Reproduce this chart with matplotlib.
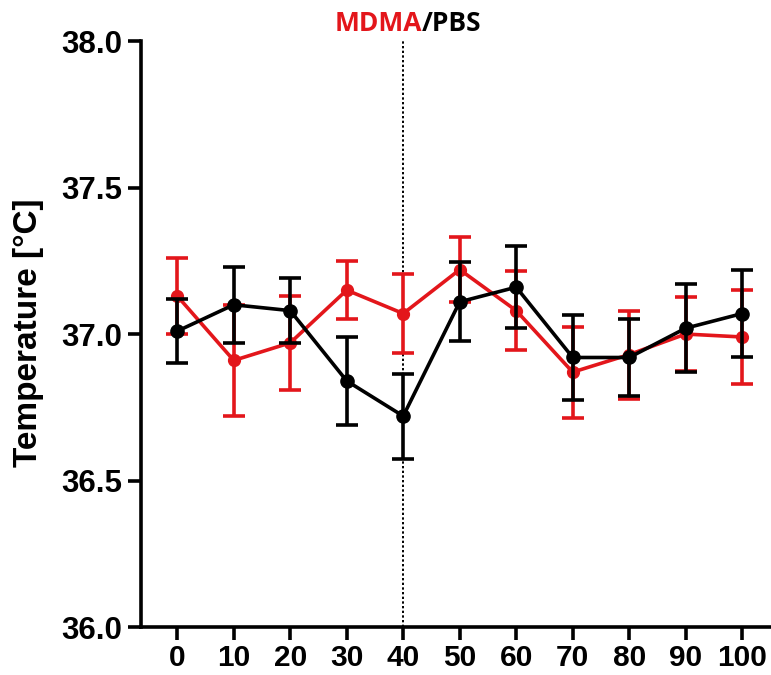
import matplotlib
matplotlib.use("Agg")
import matplotlib.pyplot as plt
from matplotlib import font_manager

# Time points (min)
time_points = [0, 10, 20, 30, 40, 50, 60, 70, 80, 90, 100]

# Body temperature, mean and error (°C)
mdma_mean = [37.13, 36.91, 36.97, 37.15, 37.07, 37.22, 37.08, 36.87, 36.93, 37.00, 36.99]
mdma_err = [0.13, 0.19, 0.16, 0.10, 0.135, 0.11, 0.135, 0.155, 0.15, 0.125, 0.16]
pbs_mean = [37.01, 37.10, 37.08, 36.84, 36.72, 37.11, 37.16, 36.92, 36.92, 37.02, 37.07]
pbs_err = [0.11, 0.13, 0.11, 0.15, 0.145, 0.135, 0.14, 0.145, 0.13, 0.15, 0.15]

y_ticks = [36.0, 36.5, 37.0, 37.5, 38.0]
injection_time = 40

RED = "#e3161b"
BLACK = "#000000"

names = {f.name for f in font_manager.fontManager.ttflist}
has_narrow = "Liberation Sans Narrow" in names
label_family = "Liberation Sans Narrow" if has_narrow else "Liberation Sans"
label_size = 30 if has_narrow else 24

fig = plt.figure(figsize=(7.71, 6.75), dpi=100)
ax = fig.add_axes([0.183, 0.0711, 0.817, 0.868])

ax.axvline(injection_time, color=BLACK, linestyle=(0, (1.2, 1.2)), linewidth=1.4, zorder=1)

ax.errorbar(time_points, mdma_mean, yerr=mdma_err, color=RED, marker="o", markersize=8.5,
            linewidth=2.6, elinewidth=2.6, capsize=8, capthick=2.6, zorder=3)
ax.errorbar(time_points, pbs_mean, yerr=pbs_err, color=BLACK, marker="o", markersize=9.5,
            linewidth=2.6, elinewidth=2.6, capsize=8, capthick=2.6, zorder=4)

ax.set_xlim(-6.4, 105.1)
ax.set_ylim(36.0, 38.0)
ax.set_xticks(time_points)
ax.set_yticks(y_ticks)
ax.set_yticklabels([f"{v:.1f}" for v in y_ticks])

for side in ("top", "right"):
    ax.spines[side].set_visible(False)
for side in ("left", "bottom"):
    ax.spines[side].set_linewidth(2.6)

ax.tick_params(axis="both", width=2.6, length=9.5)
ax.tick_params(axis="y", pad=4)
ax.tick_params(axis="x", pad=3)
for lab in ax.get_yticklabels():
    lab.set_fontfamily("Liberation Sans")
    lab.set_fontweight("bold")
    lab.set_fontsize(22.5)
for lab in ax.get_xticklabels():
    lab.set_fontfamily("Liberation Sans")
    lab.set_fontweight("bold")
    lab.set_fontsize(21.5)

ax.set_ylabel("Temperature [°C]", fontfamily=label_family, fontweight="bold",
              fontsize=label_size)
ax.yaxis.set_label_coords((28 - 141) / (0.817 * 771), (627 - 333) / (0.868 * 675))
ax.yaxis.label.set_va("center")

# Two-coloured title: MDMA / PBS
fig.text(422 / 771, 1 - 31 / 675, "MDMA", color=RED, ha="right", va="baseline",
         fontfamily="Open Sans", fontweight="bold", fontsize=19)
fig.text(422 / 771, 1 - 31 / 675, "/PBS", color=BLACK, ha="left", va="baseline",
         fontfamily="Open Sans", fontweight="bold", fontsize=19)

fig.savefig("out.png", dpi=100)
